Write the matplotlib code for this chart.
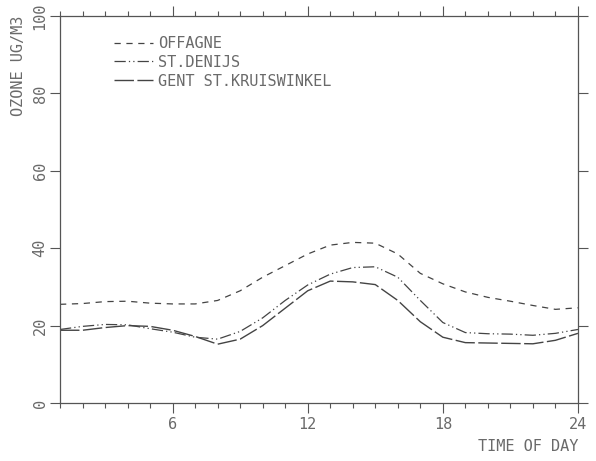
import matplotlib
matplotlib.use('Agg')
import matplotlib.pyplot as plt

# --- data ---
hours = list(range(1, 25))
offagne = [25.5, 25.7, 26.2, 26.3, 25.8, 25.6, 25.6, 26.5, 29.0, 32.5, 35.5, 38.5,
           40.8, 41.5, 41.3, 38.5, 33.5, 30.8, 28.7, 27.3, 26.3, 25.2, 24.2, 24.6]
st_denijs = [19.0, 19.8, 20.3, 20.2, 19.2, 18.3, 17.0, 16.5, 18.5, 22.0, 26.5, 30.5,
             33.3, 35.0, 35.2, 32.5, 26.5, 20.8, 18.2, 17.9, 17.8, 17.5, 18.0, 19.0]
kruiswinkel = [18.8, 18.8, 19.5, 20.0, 19.8, 18.8, 17.2, 15.2, 16.5, 20.0, 24.5, 29.0,
               31.5, 31.3, 30.6, 26.5, 21.0, 17.0, 15.6, 15.5, 15.4, 15.3, 16.2, 18.0]
labels = ['OFFAGNE', 'ST.DENIJS', 'GENT ST.KRUISWINKEL']

ink = '#444444'
txt = '#6a6a6a'
plt.rcParams['font.family'] = ['DejaVu Sans Mono']

fig = plt.figure(figsize=(5.96, 4.61), dpi=100)
ax = fig.add_axes([0.1007, 0.1258, 0.869, 0.8395])

ax.plot(hours, offagne, color=ink, lw=0.9, dashes=(5, 4.5), label=labels[0])
ax.plot(hours, st_denijs, color=ink, lw=0.9, dashes=(9, 2.5, 1, 2.5, 1, 2.5), label=labels[1])
ax.plot(hours, kruiswinkel, color=ink, lw=1.0, dashes=(14, 2.5), label=labels[2])

ax.set_xlim(1, 24)
ax.set_ylim(0, 100)
ax.set_xticks([6, 12, 18, 24])
ax.set_xticks(range(1, 25), minor=True)
ax.set_yticks([0, 20, 40, 60, 80, 100])

for s in ax.spines.values():
    s.set_color('#555555')
    s.set_linewidth(0.9)

ax.tick_params(axis='both', which='major', direction='out', length=7, width=0.8,
               color='#555555', labelcolor=txt, labelsize=11,
               top=True, right=True)
ax.tick_params(axis='x', which='minor', direction='out', length=3.5, width=0.8,
               color='#555555', top=True)
ax.tick_params(axis='y', which='minor', left=False, right=False)
ax.tick_params(axis='x', which='major', pad=3)
ax.tick_params(axis='y', which='major', pad=2)
for lbl in ax.get_yticklabels():
    lbl.set_rotation(90)
    lbl.set_va('center')

ax.set_xlabel('TIME OF DAY', loc='right', color=txt, fontsize=11, labelpad=5)
ax.set_ylabel('OZONE UG/M3', loc='top', color=txt, fontsize=11, labelpad=5)

leg = ax.legend(loc='upper left', bbox_to_anchor=(0.089, 0.968), frameon=False,
                borderpad=0, handlelength=2.6, handletextpad=0.3, labelspacing=0.25,
                fontsize=11)
for t in leg.get_texts():
    t.set_color(txt)

fig.savefig('out.png', dpi=100)
